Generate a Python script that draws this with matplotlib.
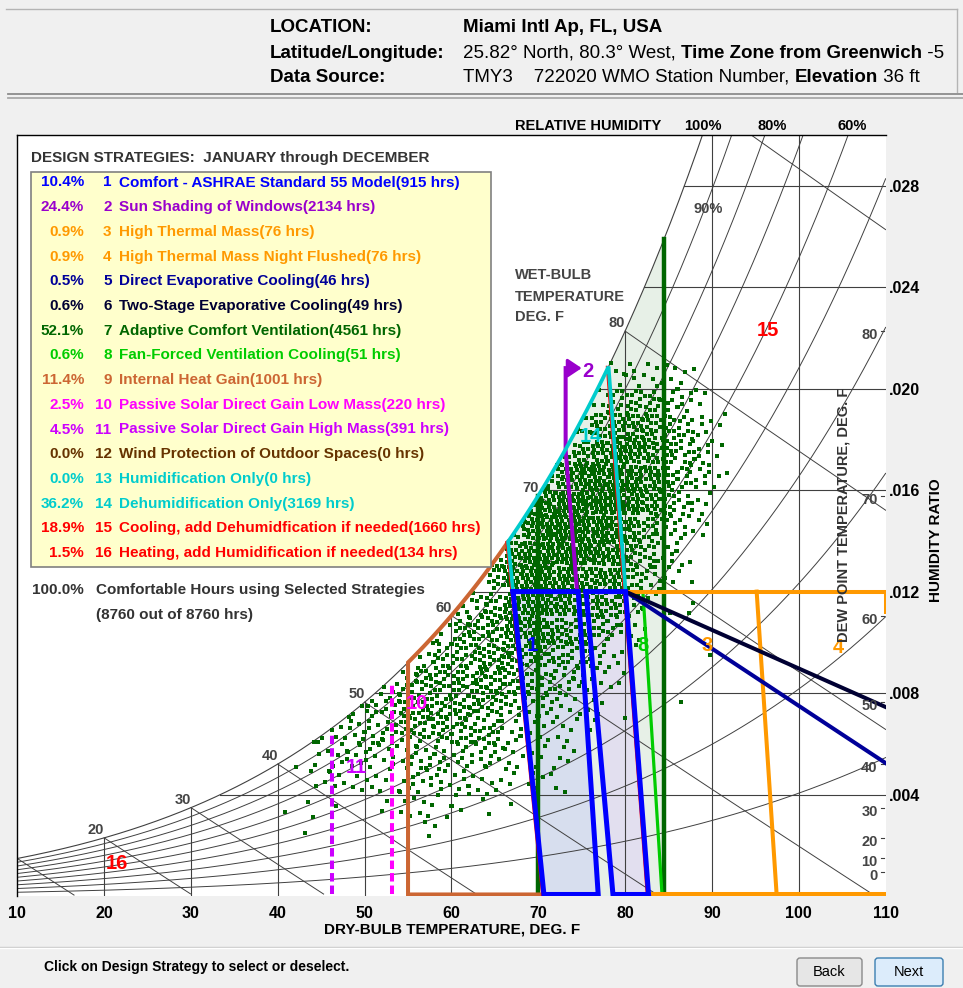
import numpy as np
import matplotlib
matplotlib.use("Agg")
import matplotlib.pyplot as plt
from matplotlib.lines import Line2D
from matplotlib.patches import Rectangle, FancyBboxPatch, Polygon
from matplotlib.transforms import IdentityTransform

plt.rcParams['font.family'] = ['Liberation Sans', 'DejaVu Sans']

W_FIG, H_FIG = 963, 988
BG = '#f0f0f0'
P_ATM = 14.677          # psia at 36 ft
GRID_C = '#404040'
LABEL_GRAY = '#444444'

# ---------------- chart data ----------------
dry_bulb_grid = [20, 30, 40, 50, 60, 70, 80, 90, 100]
x_ticks = [10, 20, 30, 40, 50, 60, 70, 80, 90, 100, 110]
hum_ratio_grid = [0.004, 0.008, 0.012, 0.016, 0.020, 0.024, 0.028]
hum_ratio_labels = ['.004', '.008', '.012', '.016', '.020', '.024', '.028']
rh_curves = [0.1, 0.2, 0.3, 0.4, 0.5, 0.6, 0.7, 0.8, 0.9]
wet_bulb_lines = [10, 20, 30, 40, 50, 60, 70, 80, 90]
wet_bulb_labels = [20, 30, 40, 50, 60, 70, 80]
dew_point_labels = [0, 10, 20, 30, 40, 50, 60, 70, 80]

strategy_pct = [10.4, 24.4, 0.9, 0.9, 0.5, 0.6, 52.1, 0.6, 11.4, 2.5, 4.5, 0.0, 0.0, 36.2, 18.9, 1.5]
strategy_hours = [915, 2134, 76, 76, 46, 49, 4561, 51, 1001, 220, 391, 0, 0, 3169, 1660, 134]
strategy_names = [
    'Comfort - ASHRAE Standard 55 Model',
    'Sun Shading of Windows',
    'High Thermal Mass',
    'High Thermal Mass Night Flushed',
    'Direct Evaporative Cooling',
    'Two-Stage Evaporative Cooling',
    'Adaptive Comfort Ventilation',
    'Fan-Forced Ventilation Cooling',
    'Internal Heat Gain',
    'Passive Solar Direct Gain Low Mass',
    'Passive Solar Direct Gain High Mass',
    'Wind Protection of Outdoor Spaces',
    'Humidification Only',
    'Dehumidification Only',
    'Cooling, add Dehumidfication if needed',
    'Heating, add Humidification if needed',
]
strategy_colors = ['#0000ff', '#9900cc', '#ff9900', '#ff9900', '#000099', '#000033',
                   '#006600', '#00cc00', '#cc6633', '#ff00ff', '#cc00ff', '#663300',
                   '#00cccc', '#00cccc', '#ff0000', '#ff0000']

# zone outlines (dry bulb F, humidity ratio)
comfort_winter = [(67.1, 0.012), (74.6, 0.012), (76.9, 0.0), (70.65, 0.0)]
comfort_summer = [(75.5, 0.012), (80.05, 0.012), (82.7, 0.0), (78.6, 0.0)]
adaptive_t = [70.0, 84.5]
fan_line = [(82.05, 0.012), (84.25, 0.0)]
mass_line = [(95.15, 0.012), (97.45, 0.0)]
evap_direct_end = (110.0, 0.00524)
evap_two_stage_end = (110.0, 0.00745)
heat_gain_t = 55.0
solar_low_mass = (53.2, 0.0083)
solar_high_mass = (46.2, 0.00648)
shading_path = [(74.45, 0.0121), (73.15, 0.01758), (73.15, 0.02081), (74.3, 0.02081)]
shading_arrow_t = 75.0

# hourly weather points: number of visible dots per 2 F x 0.001 cell
# columns: 40-42 F ... 90-92 F, rows: W 0.002-0.003 ... 0.020-0.021
cell_t0, cell_dt = 40.0, 2.0
cell_w0, cell_dw = 0.002, 0.001
hour_counts = [
    [0, 1, 0, 0, 0, 0, 0, 0, 2, 1, 0, 0, 0, 0, 0, 0, 0, 0, 0, 0, 0, 0, 0, 0, 0, 0],
    [1, 1, 1, 1, 0, 1, 1, 4, 4, 3, 3, 1, 1, 1, 0, 0, 0, 0, 0, 0, 0, 0, 0, 0, 0, 0],
    [0, 1, 3, 4, 3, 4, 3, 6, 6, 5, 5, 5, 4, 3, 3, 3, 1, 0, 0, 0, 0, 0, 0, 0, 0, 0],
    [0, 1, 3, 5, 6, 6, 5, 7, 8, 7, 7, 7, 7, 4, 3, 3, 3, 1, 0, 0, 0, 0, 0, 0, 0, 0],
    [0, 0, 3, 4, 7, 8, 8, 11, 11, 11, 11, 11, 11, 6, 4, 4, 4, 2, 2, 0, 0, 0, 0, 0, 0, 0],
    [0, 0, 0, 0, 3, 7, 9, 11, 13, 13, 13, 13, 13, 8, 7, 7, 5, 3, 3, 1, 0, 0, 0, 1, 0, 0],
    [0, 0, 0, 0, 0, 0, 3, 8, 13, 13, 13, 14, 14, 12, 10, 10, 8, 7, 4, 3, 0, 0, 0, 0, 0, 0],
    [0, 0, 0, 0, 0, 0, 0, 0, 5, 11, 12, 14, 14, 15, 14, 14, 12, 10, 7, 4, 1, 0, 0, 0, 1, 0],
    [0, 0, 0, 0, 0, 0, 0, 0, 0, 3, 11, 13, 14, 19, 19, 19, 16, 14, 12, 8, 3, 1, 0, 0, 0, 0],
    [0, 0, 0, 0, 0, 0, 0, 0, 0, 0, 3, 8, 12, 20, 22, 22, 20, 18, 17, 14, 7, 3, 1, 2, 0, 0],
    [0, 0, 0, 0, 0, 0, 0, 0, 0, 0, 0, 0, 10, 20, 23, 23, 23, 20, 20, 19, 12, 8, 4, 2, 0, 0],
    [0, 0, 0, 0, 0, 0, 0, 0, 0, 0, 0, 0, 3, 16, 23, 26, 26, 24, 23, 20, 15, 10, 6, 3, 0, 0],
    [0, 0, 0, 0, 0, 0, 0, 0, 0, 0, 0, 0, 0, 5, 20, 26, 27, 27, 26, 23, 18, 14, 8, 6, 3, 0],
    [0, 0, 0, 0, 0, 0, 0, 0, 0, 0, 0, 0, 0, 0, 7, 22, 26, 27, 27, 26, 22, 18, 12, 8, 4, 0],
    [0, 0, 0, 0, 0, 0, 0, 0, 0, 0, 0, 0, 0, 0, 0, 8, 20, 23, 26, 26, 24, 20, 14, 10, 7, 3],
    [0, 0, 0, 0, 0, 0, 0, 0, 0, 0, 0, 0, 0, 0, 0, 0, 5, 16, 20, 22, 22, 18, 14, 10, 7, 2],
    [0, 0, 0, 0, 0, 0, 0, 0, 0, 0, 0, 0, 0, 0, 0, 0, 0, 5, 14, 16, 18, 16, 12, 10, 5, 2],
    [0, 0, 0, 0, 0, 0, 0, 0, 0, 0, 0, 0, 0, 0, 0, 0, 0, 0, 4, 10, 12, 11, 9, 7, 3, 0],
    [0, 0, 0, 0, 0, 0, 0, 0, 0, 0, 0, 0, 0, 0, 0, 0, 0, 0, 0, 4, 5, 5, 4, 3, 0, 0],
]


# ---------------- psychrometrics ----------------
def p_ws(t_f):
    T = np.asarray(t_f, dtype=float) + 459.67
    return np.exp(-1.0440397e4 / T - 1.1294650e1 - 2.7022355e-2 * T
                  + 1.2890360e-5 * T ** 2 - 2.4780681e-9 * T ** 3 + 6.5459673 * np.log(T))


def w_rh(t, rh=1.0):
    pw = rh * p_ws(t)
    return 0.621945 * pw / (P_ATM - pw)


def w_wb(t, twb):
    ws = w_rh(twb)
    return ((1093 - 0.556 * twb) * ws - 0.240 * (t - twb)) / (1093 + 0.444 * t - twb)


def t_at_sat(w):
    lo, hi = 0.0, 120.0
    for _ in range(60):
        mid = 0.5 * (lo + hi)
        if w_rh(mid) < w:
            lo = mid
        else:
            hi = mid
    return 0.5 * (lo + hi)


def edge_t(edge, w):
    (t_top, w_top), (t_bot, w_bot) = edge
    return t_bot + (t_top - t_bot) * (w - w_bot) / (w_top - w_bot)


def edge_meets_sat(edge):
    lo, hi = 0.012, 0.03
    for _ in range(60):
        mid = 0.5 * (lo + hi)
        if w_rh(edge_t(edge, mid)) > mid:
            lo = mid
        else:
            hi = mid
    w = 0.5 * (lo + hi)
    return edge_t(edge, w), w


def fx(x):
    return x / W_FIG


def fy(y):
    return 1 - y / H_FIG


fig = plt.figure(figsize=(W_FIG / 100, H_FIG / 100), dpi=100, facecolor=BG)

# axes: 10..110 F spans x 17.3..885.6 px, W 0..0.030 spans y 896..135 px
ax = fig.add_axes([fx(17.3), fy(896), (885.6 - 17.3) / W_FIG, (896 - 135) / H_FIG])
ax.set_facecolor('white')
ax.set_xlim(10, 110)
ax.set_ylim(0, 0.030)
for side in ['bottom', 'right']:
    ax.spines[side].set_visible(False)
for side in ['left', 'top']:
    ax.spines[side].set_color('black')
    ax.spines[side].set_linewidth(1.0)
ax.set_xticks(x_ticks)
ax.set_xticklabels([str(t) for t in x_ticks], fontsize=11.5, fontweight='bold')
ax.tick_params(axis='x', length=0, pad=7)
ax.yaxis.tick_right()
ax.set_yticks(hum_ratio_grid)
ax.set_yticklabels(hum_ratio_labels, fontsize=11.5, fontweight='bold')
ax.tick_params(axis='y', length=0, pad=2.5)

BASE_W = 0.00006
t_all = np.linspace(10, 110, 400)

# ---------------- psychrometric grid ----------------
t_sat = np.linspace(10, 92, 400)
ax.plot(t_sat, w_rh(t_sat), color=GRID_C, lw=0.8, zorder=2)
for rh in rh_curves:
    ax.plot(t_all, w_rh(t_all, rh), color=GRID_C, lw=0.7, zorder=2)
for t in dry_bulb_grid:
    ax.plot([t, t], [0, min(float(w_rh(t)), 0.031)], color=GRID_C, lw=0.8, zorder=2)
for w in hum_ratio_grid:
    ax.plot([t_at_sat(w), 110], [w, w], color=GRID_C, lw=0.8, zorder=2)
for twb in wet_bulb_lines:
    tt = np.linspace(twb, 110, 200)
    ww = w_wb(tt, twb)
    keep = ww >= 0
    ax.plot(tt[keep], ww[keep], color=GRID_C, lw=0.7, zorder=2)

for twb in wet_bulb_labels:
    ax.annotate(str(twb), xy=(twb, w_rh(twb)), xytext=(0, 1), textcoords='offset pixels',
                ha='right', va='bottom', fontsize=10.5, fontweight='bold', color=LABEL_GRAY, zorder=9)
for dp in dew_point_labels:
    wd = float(w_rh(dp))
    ax.annotate(str(dp), xy=(110, wd), xytext=(-8, -4), textcoords='offset pixels',
                ha='right', va='center', fontsize=10.5, fontweight='bold', color=LABEL_GRAY, zorder=9)
    ax.plot([109.45, 109.85], [wd, wd], color=GRID_C, lw=0.8, zorder=2)
ax.text(89.55, 0.02708, '90%', ha='center', va='center', fontsize=10.5,
        fontweight='bold', color=LABEL_GRAY, zorder=1.8)

# ---------------- zone fills ----------------
left_edge = [comfort_winter[0], comfort_winter[3]]
right_edge = [comfort_summer[1], comfort_summer[2]]
tl, wl = edge_meets_sat(left_edge)
tr, wr = edge_meets_sat(right_edge)

t_fill = np.linspace(tl, adaptive_t[1], 120)
fill7 = list(zip(t_fill, w_rh(t_fill))) + [(adaptive_t[1], 0), (comfort_winter[3][0], 0)]
ax.add_patch(Polygon(fill7, closed=True, facecolor='#e7f0e7', edgecolor='none', zorder=1))
ax.add_patch(Polygon(comfort_winter, closed=True, facecolor='#d7deee', edgecolor='none', zorder=1.2))
ax.add_patch(Polygon(comfort_summer, closed=True, facecolor='#e2dfef', edgecolor='none', zorder=1.1))

# ---------------- hourly points ----------------
dot_t, dot_w = [], []
for i, row in enumerate(hour_counts):
    w_lo = cell_w0 + i * cell_dw
    for j, n in enumerate(row):
        t_lo = cell_t0 + j * cell_dt
        for k in range(n):
            u = (0.5 + (k + 1) * 0.7548776662 + 0.31 * j + 0.17 * i) % 1.0
            v = (0.5 + (k + 1) * 0.5698402910 + 0.23 * i + 0.41 * j) % 1.0
            t = t_lo + u * cell_dt
            w_top = min(w_lo + cell_dw, float(w_rh(t)) - 0.00005)
            if w_top <= w_lo:
                continue
            dot_t.append(t)
            dot_w.append(w_lo + v * (w_top - w_lo))
ax.scatter(dot_t, dot_w, s=5.5, marker='s', color='#006600', linewidths=0, zorder=3)

# ---------------- strategy zone lines ----------------
LW = 2.9
def zline(pts, color, lw=LW, z=5, **kw):
    xs, ys = zip(*pts)
    ax.plot(xs, ys, color=color, lw=lw, zorder=z, solid_joinstyle='miter', **kw)

# 7 adaptive comfort ventilation
for t in adaptive_t:
    zline([(t, BASE_W), (t, float(w_rh(t)))], '#006600', lw=3.2, z=4)
# 8 fan forced
zline([fan_line[0], (fan_line[1][0], BASE_W)], '#00cc00', lw=2.3, z=4.2)
# 3 / 4 thermal mass
zline([(comfort_summer[1][0], 0.012), (110, 0.012), (110, 0.0112)], '#ff9900', z=4.5)
zline([mass_line[0], (mass_line[1][0], BASE_W)], '#ff9900', z=4.5)
zline([(comfort_summer[2][0], BASE_W), (110, BASE_W)], '#ff9900', z=4.5)
# 5 / 6 evaporative cooling
zline([(comfort_summer[1][0], 0.012), evap_direct_end], '#000099', z=4.6)
zline([(comfort_summer[1][0], 0.012), evap_two_stage_end], '#000033', z=4.6)
# 9 internal heat gain
t9 = np.linspace(heat_gain_t, tl, 60)
pts9 = [(comfort_winter[3][0], BASE_W), (heat_gain_t, BASE_W)] + list(zip(t9, w_rh(t9)))
zline(pts9, '#cc6633', z=4.7)
# 10 / 11 passive solar
zline([(solar_low_mass[0], BASE_W), solar_low_mass], '#ff00ff', z=4.7,
      linestyle=(0, (2.1, 1.0)), dash_capstyle='butt')
zline([(solar_high_mass[0], BASE_W), solar_high_mass], '#cc00ff', z=4.7,
      linestyle=(0, (2.1, 1.0)), dash_capstyle='butt')
# 2 sun shading
zline(shading_path, '#9900cc', z=4.8)
ax.annotate('', xy=(shading_arrow_t, shading_path[-1][1]),
            xytext=(shading_path[-1][0] - 0.1, shading_path[-1][1]),
            arrowprops=dict(arrowstyle='-|>,head_length=0.6,head_width=0.4', color='#9900cc',
                            lw=2.2, mutation_scale=14, shrinkA=0, shrinkB=0), zorder=4.8)
# 15 red edge + 14 dehumidification
zline([(edge_t(left_edge, w) - 0.22, w) for w in (0.0, wl)], '#ff0000', lw=1.2, z=5.0)
zline([(edge_t(right_edge, w) - 0.22, w) for w in (0.0, wr)], '#ff0000', lw=1.2, z=5.0)
t14 = np.linspace(tl, tr, 80)
pts14 = [comfort_winter[0]] + list(zip(t14, w_rh(t14))) + [comfort_summer[1]]
zline(pts14, '#00cccc', lw=2.7, z=5.2)
# 1 comfort zones
for poly in (comfort_winter, comfort_summer):
    pts = [(t, max(w, BASE_W)) for t, w in poly]
    zline(pts + [pts[0]], '#0000ff', lw=3.6, z=6)

# zone numbers
zone_labels = [('1', 69.3, 0.00986, '#0000ff'), ('2', 75.75, 0.02066, '#9900cc'),
               ('3', 89.5, 0.00986, '#ff9900'), ('4', 104.6, 0.0098, '#ff9900'),
               ('8', 82.06, 0.00986, '#00cc00'), ('10', 56.0, 0.00757, '#ff00ff'),
               ('11', 49.0, 0.00505, '#cc00ff'), ('14', 76.0, 0.0181, '#00cccc'),
               ('15', 96.4, 0.0223, '#ff0000'), ('16', 21.5, 0.0013, '#ff0000')]
for s, t, w, c in zone_labels:
    ax.text(t, w, s, ha='center', va='center', fontsize=14.5, fontweight='bold', color=c, zorder=7)

# ---------------- text around the chart ----------------
fig.text(fx(515), fy(126), 'RELATIVE HUMIDITY', ha='left', va='center', fontsize=10.5, fontweight='bold')
for s, x in [('100%', 703), ('80%', 772), ('60%', 852)]:
    fig.text(fx(x), fy(126), s, ha='center', va='center', fontsize=10.5, fontweight='bold')
for s, y in [('WET-BULB', 275), ('TEMPERATURE', 297), ('DEG. F', 317)]:
    fig.text(fx(515), fy(y), s, ha='left', va='center', fontsize=10.5, fontweight='bold', color=LABEL_GRAY)
fig.text(fx(844), fy(515), 'DEW POINT TEMPERATURE, DEG. F', rotation=90, ha='center', va='center',
         fontsize=10.5, fontweight='bold', color='#333333')
fig.text(fx(936), fy(540), 'HUMIDITY RATIO', rotation=90, ha='center', va='center',
         fontsize=11, fontweight='bold')
fig.text(fx(452), fy(930), 'DRY-BULB TEMPERATURE, DEG. F', ha='center', va='center',
         fontsize=11, fontweight='bold')

# legend panel
fig.text(fx(31), fy(158), 'DESIGN STRATEGIES:  JANUARY through DECEMBER', ha='left', va='center',
         fontsize=11, fontweight='bold', color='#333333')
fig.add_artist(Rectangle((fx(31), fy(567)), (491 - 31) / W_FIG, (567 - 172) / H_FIG,
                         transform=fig.transFigure, facecolor='#ffffcc', edgecolor='#808080',
                         lw=1.2, zorder=5))
for i in range(len(strategy_names)):
    y = 182.5 + 24.7 * i
    c = strategy_colors[i]
    fig.text(fx(84), fy(y), f'{strategy_pct[i]:.1f}%', ha='right', va='center', fontsize=11,
             fontweight='bold', color=c, zorder=6)
    fig.text(fx(111.5), fy(y), str(i + 1), ha='right', va='center', fontsize=11,
             fontweight='bold', color=c, zorder=6)
    fig.text(fx(119), fy(y), f'{strategy_names[i]}({strategy_hours[i]} hrs)', ha='left', va='center',
             fontsize=11, fontweight='bold', color=c, zorder=6)
fig.text(fx(84), fy(590), '100.0%', ha='right', va='center', fontsize=11, fontweight='bold', color='#333333')
fig.text(fx(96), fy(590), 'Comfortable Hours using Selected Strategies', ha='left', va='center',
         fontsize=11, fontweight='bold', color='#333333')
fig.text(fx(96), fy(615), '(8760 out of 8760 hrs)', ha='left', va='center',
         fontsize=11, fontweight='bold', color='#333333')

# header
renderer = fig.canvas.get_renderer()
def text_runs(x_px, y_px, runs, size):
    x = x_px
    for s, bold in runs:
        t = fig.text(fx(x), fy(y_px), s, ha='left', va='center', fontsize=size,
                     fontweight='bold' if bold else 'normal')
        x += t.get_window_extent(renderer=renderer).width

fig.add_artist(Line2D([fx(6), fx(957)], [fy(9), fy(9)], color='#b4b4b4', lw=1))
fig.add_artist(Line2D([fx(957), fx(957)], [fy(9), fy(92)], color='#b4b4b4', lw=1))
fig.add_artist(Line2D([fx(8), fx(963)], [fy(94), fy(94)], color='#8c8c8c', lw=1.3))
fig.add_artist(Line2D([fx(8), fx(963)], [fy(98.5), fy(98.5)], color='#a8a8a8', lw=1.3))
fig.text(fx(270), fy(28), 'LOCATION:', ha='left', va='center', fontsize=13.5, fontweight='bold')
fig.text(fx(463), fy(28), 'Miami Intl Ap, FL, USA', ha='left', va='center', fontsize=13.5, fontweight='bold')
fig.text(fx(270), fy(53), 'Latitude/Longitude:', ha='left', va='center', fontsize=13.5, fontweight='bold')
fig.text(fx(270), fy(77), 'Data Source:', ha='left', va='center', fontsize=13.5, fontweight='bold')
text_runs(463, 53, [('25.82° North, 80.3° West, ', False), ('Time Zone from Greenwich', True),
                    (' -5', False)], 13.5)
text_runs(463, 77, [('TMY3    722020 WMO Station Number, ', False), ('Elevation', True),
                    (' 36 ft', False)], 13.5)

# footer
fig.add_artist(Line2D([0, 1], [fy(946.5), fy(946.5)], color='#c8c8c8', lw=1))
fig.add_artist(Line2D([0, 1], [fy(947.5), fy(947.5)], color='white', lw=1))
fig.text(fx(44), fy(967), 'Click on Design Strategy to select or deselect.', ha='left', va='center',
         fontsize=10, fontweight='bold')
for label, x0, x1, face, edge in [('Back', 797, 862, '#e6e6e6', '#8a8a8a'),
                                  ('Next', 875, 943, '#dcecfb', '#3c7fb1')]:
    fig.add_artist(FancyBboxPatch((x0, H_FIG - 986), x1 - x0, 28,
                                  boxstyle='round,pad=0,rounding_size=3', transform=IdentityTransform(),
                                  facecolor=face, edgecolor=edge, lw=1))
    fig.text(fx((x0 + x1) / 2), fy(972), label, ha='center', va='center', fontsize=10.5)

fig.savefig('out.png', dpi=100, facecolor=BG)
